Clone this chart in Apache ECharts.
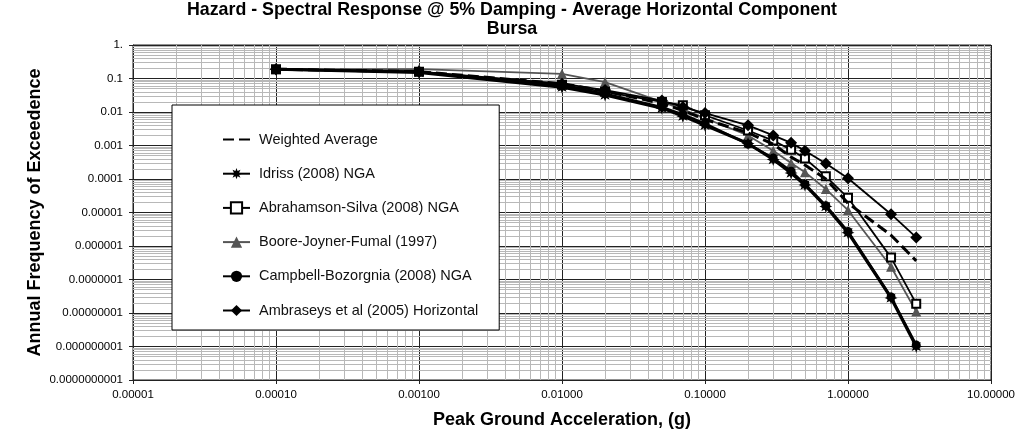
<!DOCTYPE html>
<html>
<head>
<meta charset="utf-8">
<script src="https://cdn.jsdelivr.net/npm/echarts@6/dist/echarts.min.js"></script>
<style>
html,body{margin:0;padding:0;background:#fff;}
#chart{width:1024px;height:435px;}
</style>
</head>
<body>
<div id="chart"></div>
<script>
// Peak ground acceleration (g)
var pga = [0.0001, 0.001, 0.01, 0.02, 0.05, 0.07, 0.1, 0.2, 0.3, 0.4, 0.5, 0.7, 1.0, 2.0, 3.0];
// Annual frequency of exceedance per model
var weightedAverage = [0.19, 0.16, 0.07, 0.042, 0.018, 0.011, 0.006, 0.0024, 0.0011, 0.00045, 0.00026, 0.0001, 0.000019, 0.0000021, 0.00000036];
var idriss2008 = [0.19, 0.15, 0.055, 0.032, 0.013, 0.0075, 0.004, 0.00115, 0.00038, 0.00015, 0.000066, 0.000015, 0.0000025, 0.000000028, 0.000000001];
var abrahamsonSilva2008 = [0.19, 0.16, 0.065, 0.04, 0.02, 0.016, 0.008, 0.0028, 0.0014, 0.00075, 0.00041, 0.00012, 0.0000275, 0.00000045, 0.000000019];
var booreJoynerFumal1997 = [0.19, 0.19, 0.138, 0.078, 0.02, 0.012, 0.0065, 0.002, 0.0007, 0.0003, 0.00016, 0.00005, 0.0000117, 0.00000024, 0.000000011];
var campbellBozorgnia2008 = [0.19, 0.155, 0.06, 0.035, 0.014, 0.0085, 0.0045, 0.0011, 0.00042, 0.00017, 0.00007, 0.000016, 0.0000027, 0.00000003, 0.0000000011];
var ambraseys2005 = [0.19, 0.16, 0.07, 0.045, 0.022, 0.014, 0.0093, 0.004, 0.002, 0.0012, 0.0007, 0.00029, 0.000105, 0.0000089, 0.0000018];

var seriesNames = ['Weighted Average', 'Idriss (2008) NGA', 'Abrahamson-Silva (2008) NGA', 'Boore-Joyner-Fumal (1997)', 'Campbell-Bozorgnia (2008) NGA', 'Ambraseys et al (2005) Horizontal'];
var titleText = 'Hazard - Spectral Response @ 5% Damping - Average Horizontal Component\nBursa';
var xName = 'Peak Ground Acceleration, (g)';
var yName = 'Annual Frequency of Exceedence';
var xMin = 0.00001, xMax = 10, yMin = 1e-10, yMax = 1;

function pairs(ys){ return pga.map(function(x,i){ return [x, ys[i]]; }); }

// star (asterisk-like) marker shape
var starPts = [];
for (var i = 0; i < 16; i++) {
  var a = i * Math.PI / 8 - Math.PI / 2, r = (i % 2) ? 5 : 10;
  starPts.push((r*Math.cos(a)).toFixed(2) + ' ' + (r*Math.sin(a)).toFixed(2));
}
var starPath = 'path://M' + starPts.join(' L') + ' Z';

// minor gridline positions (2..9 within each decade)
var minorGrid = [];
for (var e = -5; e <= 0; e++) for (var k = 2; k <= 9; k++) {
  var vx = k * Math.pow(10, e);
  minorGrid.push([{coord: [vx, yMin]}, {coord: [vx, yMax]}]);
}
for (var e2 = -10; e2 <= -1; e2++) for (var k2 = 2; k2 <= 9; k2++) {
  var vy = k2 * Math.pow(10, e2);
  minorGrid.push([{coord: [xMin, vy]}, {coord: [xMax, vy]}]);
}

var FONT = '"Liberation Sans", Arial, sans-serif';

function yFmt(v){
  if (v >= 0.999) return '1.';
  var d = Math.round(-Math.log10(v));
  return v.toFixed(d);
}

var chart = echarts.init(document.getElementById('chart'), null, {renderer:'canvas'});
chart.setOption({
  animation: false,
  backgroundColor: '#fff',
  title: {
    text: titleText,
    left: 'center',
    top: -4,
    textStyle: {fontFamily: FONT, fontSize: 17.8, fontWeight: 'bold', color: '#000', lineHeight: 19}
  },
  grid: {left: 133, right: 33, top: 45, bottom: 55, show: true, borderColor: '#222', borderWidth: 1, backgroundColor: 'transparent'},
  legend: {
    orient: 'vertical',
    left: 172, top: 105, z: 10,
    padding: [27, 21, 12, 50],
    itemWidth: 27, itemHeight: 14, itemGap: 19.2,
    backgroundColor: '#fff', borderColor: '#000', borderWidth: 1,
    data: [
      {name: seriesNames[0], itemStyle: {opacity: 0}},
      seriesNames[1], seriesNames[2], seriesNames[3], seriesNames[4], seriesNames[5]
    ],
    textStyle: {fontFamily: FONT, fontSize: 14.5, color: '#111', padding: [0, 0, 0, 4]}
  },
  xAxis: {
    type: 'log', logBase: 10, min: xMin, max: xMax, interval: 1,
    name: xName, nameLocation: 'middle', nameGap: 31,
    nameTextStyle: {fontFamily: FONT, fontSize: 18, fontWeight: 'bold', color: '#000'},
    axisLine: {show: true, lineStyle: {color: '#222', width: 1}},
    axisTick: {show: true, inside: false, length: 4, lineStyle: {color: '#222'}},
    axisLabel: {fontFamily: FONT, fontSize: 11.5, color: '#000', margin: 9, formatter: function(v){ return v.toFixed(5); }},
    splitLine: {show: true, lineStyle: {color: '#222', width: 1}}
  },
  yAxis: {
    type: 'log', logBase: 10, min: yMin, max: yMax, interval: 1,
    name: yName, nameLocation: 'middle', nameGap: 89, nameMoveOverlap: false,
    nameTextStyle: {fontFamily: FONT, fontSize: 18, fontWeight: 'bold', color: '#000'},
    axisLine: {show: true, lineStyle: {color: '#222', width: 1}},
    axisTick: {show: true, inside: false, length: 4, lineStyle: {color: '#222'}},
    axisLabel: {fontFamily: FONT, fontSize: 11.5, color: '#000', margin: 10, formatter: yFmt},
    splitLine: {show: true, lineStyle: {color: '#222', width: 1}}
  },
  series: [
    {
      name: 'minor-grid', type: 'line', data: [], silent: true, z: 1,
      markLine: {silent: true, z: 1, symbol: ['none','none'], label: {show: false}, animation: false,
        lineStyle: {color: '#b8b8b8', width: 1, type: 'solid'}, emphasis: {disabled: true}, data: minorGrid}
    },
    {
      name: seriesNames[0], type: 'line', data: pairs(weightedAverage), symbol: 'circle', showSymbol: false, z: 5,
      lineStyle: {color: '#000', width: 3, type: [11, 5]}, itemStyle: {color: '#000'}
    },
    {
      name: seriesNames[1], type: 'line', data: pairs(idriss2008), symbol: starPath, symbolSize: 13, z: 4,
      lineStyle: {color: '#000', width: 3}, itemStyle: {color: '#000'}
    },
    {
      name: seriesNames[2], type: 'line', data: pairs(abrahamsonSilva2008), symbol: 'rect', symbolSize: 8, z: 4,
      lineStyle: {color: '#000', width: 1.8}, itemStyle: {color: '#fff', borderColor: '#000', borderWidth: 2}
    },
    {
      name: seriesNames[3], type: 'line', data: pairs(booreJoynerFumal1997), symbol: 'triangle', symbolSize: 10, z: 3,
      lineStyle: {color: '#555', width: 1.8}, itemStyle: {color: '#555'}
    },
    {
      name: seriesNames[4], type: 'line', data: pairs(campbellBozorgnia2008), symbol: 'circle', symbolSize: 9, z: 4,
      lineStyle: {color: '#000', width: 2.5}, itemStyle: {color: '#000'}
    },
    {
      name: seriesNames[5], type: 'line', data: pairs(ambraseys2005), symbol: 'diamond', symbolSize: 12, z: 4,
      lineStyle: {color: '#000', width: 1.8}, itemStyle: {color: '#000'}
    }
  ]
});
</script>
</body>
</html>
